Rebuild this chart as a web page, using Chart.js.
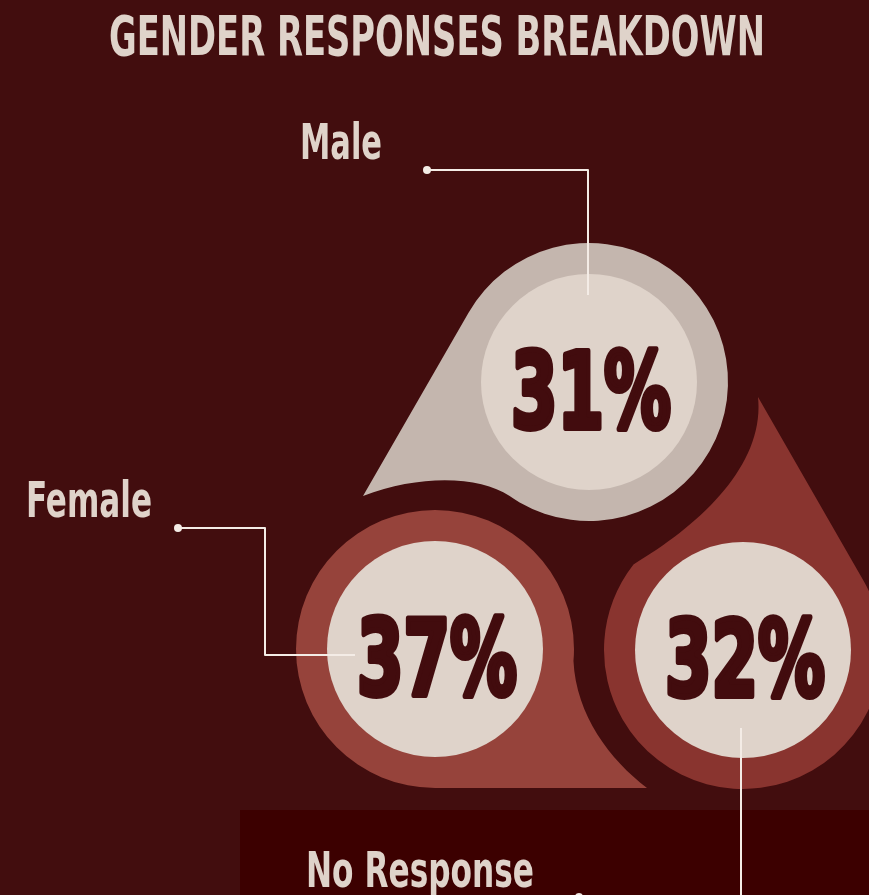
<!DOCTYPE html>
<html>
<head>
<meta charset="utf-8">
<title>Gender Responses Breakdown</title>
<script src="https://cdn.jsdelivr.net/npm/chart.js@4/dist/chart.umd.min.js"></script>
<style>
  html, body { margin: 0; padding: 0; background: #420d0e; }
  canvas { display: block; }
</style>
</head>
<body>
<canvas id="gender-chart" width="869" height="895"></canvas>
<script>
// Survey shares
const categories = ['Male', 'Female', 'No Response'];
const shares = [31, 37, 32];

// Layout of the drops (pixel space, the scales run 0..869 / 0..895)
const centers = [[589, 382], [435, 649], [743, 650]];
const outerR = 139;
const innerR = 108;
// tip offset, angle where the curved side leaves the circle, bezier controls
const drops = [
  { tip: [-226, 114], join: 125, cp1: [-109, 94], cp2: [-169, 92] },
  { tip: [212, 139], join: 5, cp1: [141, 66], cp2: [175, 111] },
  { tip: [15, -253], join: 218, cp1: [-43, -125], cp2: [22, -185] }
];
const dropColors = ['#c4b6ae', '#96433b', '#89342f'];
const labelSpots = [[300, 159, 82], [26, 517, 126], [306, 887, 228]];
const leaders = [
  [[427, 170], [588, 170], [588, 295]],
  [[178, 528], [265, 528], [265, 655], [355, 655]],
  [[579, 897], [741, 897], [741, 728]]
];

const BG = '#420d0e';
const LIGHT = '#dfd3ca';
const DARK = '#420c0e';
const LINE = '#f4ece6';
const HEAD_FONT = '"DejaVu Sans Condensed", "DejaVu Sans", sans-serif';

// draw text squeezed horizontally to a given width
function fitText(ctx, text, x, y, width, font) {
  ctx.font = font;
  const w = ctx.measureText(text).width;
  ctx.save();
  ctx.translate(x, y);
  ctx.scale(width / w, 1);
  ctx.fillText(text, 0, 0);
  ctx.restore();
}

const rad = d => d * Math.PI / 180;

const backdrop = {
  id: 'backdrop',
  beforeDraw(chart) {
    const { ctx, width, height } = chart;
    ctx.save();
    ctx.fillStyle = BG;
    ctx.fillRect(0, 0, width, height);
    // darker footer band
    ctx.fillStyle = '#3c0000';
    ctx.fillRect(240, 810, width - 240, height - 810);
    ctx.restore();
  }
};

const dropShapes = {
  id: 'dropShapes',
  beforeDatasetsDraw(chart) {
    const { ctx } = chart;
    const meta = chart.getDatasetMeta(0);
    meta.data.forEach((pt, i) => {
      const d = drops[i];
      const cx = pt.x, cy = pt.y;
      const tx = cx + d.tip[0], ty = cy + d.tip[1];
      const dist = Math.hypot(d.tip[0], d.tip[1]);
      // tangent point of the straight side
      const a = Math.atan2(d.tip[1], d.tip[0]) + Math.acos(outerR / dist);
      ctx.save();
      ctx.fillStyle = dropColors[i];
      ctx.beginPath();
      ctx.moveTo(tx, ty);
      ctx.lineTo(cx + outerR * Math.cos(a), cy + outerR * Math.sin(a));
      ctx.arc(cx, cy, outerR, a, rad(d.join), false);
      ctx.bezierCurveTo(cx + d.cp1[0], cy + d.cp1[1], cx + d.cp2[0], cy + d.cp2[1], tx, ty);
      ctx.closePath();
      ctx.fill();
      ctx.restore();
    });
  }
};

const annotations = {
  id: 'annotations',
  afterDatasetsDraw(chart) {
    const { ctx } = chart;
    const meta = chart.getDatasetMeta(0);
    ctx.save();
    ctx.textBaseline = 'alphabetic';
    ctx.textAlign = 'left';

    // title
    ctx.fillStyle = LIGHT;
    fitText(ctx, 'GENDER RESPONSES BREAKDOWN', 109, 55, 656, 'bold 55px ' + HEAD_FONT);

    // category names
    categories.forEach((c, i) => {
      const [x, y, w] = labelSpots[i];
      fitText(ctx, c, x, y, w, 'bold 49px ' + HEAD_FONT);
    });

    // percentages inside the circles
    ctx.fillStyle = DARK;
    ctx.strokeStyle = DARK;
    ctx.lineWidth = 6;
    ctx.lineJoin = 'round';
    meta.data.forEach((pt, i) => {
      const text = shares[i] + '%';
      ctx.font = 'bold 106px ' + HEAD_FONT;
      const w = ctx.measureText(text).width;
      const target = 160;
      ctx.save();
      ctx.translate(pt.x + 2, pt.y + 46);
      ctx.scale(target / w, 1);
      ctx.fillText(text, -w / 2, 0);
      ctx.strokeText(text, -w / 2, 0);
      ctx.restore();
    });

    // leader lines
    ctx.strokeStyle = LINE;
    ctx.fillStyle = LINE;
    ctx.lineWidth = 2;
    leaders.forEach(path => {
      ctx.beginPath();
      path.forEach(([x, y], k) => (k ? ctx.lineTo(x, y) : ctx.moveTo(x, y)));
      ctx.stroke();
      ctx.beginPath();
      ctx.arc(path[0][0], path[0][1], 4, 0, Math.PI * 2);
      ctx.fill();
    });
    ctx.restore();
  }
};

new Chart(document.getElementById('gender-chart').getContext('2d'), {
  type: 'bubble',
  data: {
    labels: categories,
    datasets: [{
      label: 'Share of responses',
      data: categories.map((c, i) => ({ x: centers[i][0], y: centers[i][1], r: innerR })),
      backgroundColor: LIGHT,
      borderWidth: 0,
      hoverRadius: 0,
      clip: false
    }]
  },
  options: {
    responsive: false,
    animation: false,
    events: [],
    layout: { padding: 0, autoPadding: false },
    scales: {
      x: { display: false, min: 0, max: 869 },
      y: { display: false, min: 0, max: 895, reverse: true }
    },
    plugins: {
      legend: { display: false },
      tooltip: { enabled: false }
    }
  },
  plugins: [backdrop, dropShapes, annotations]
});
</script>
</body>
</html>
